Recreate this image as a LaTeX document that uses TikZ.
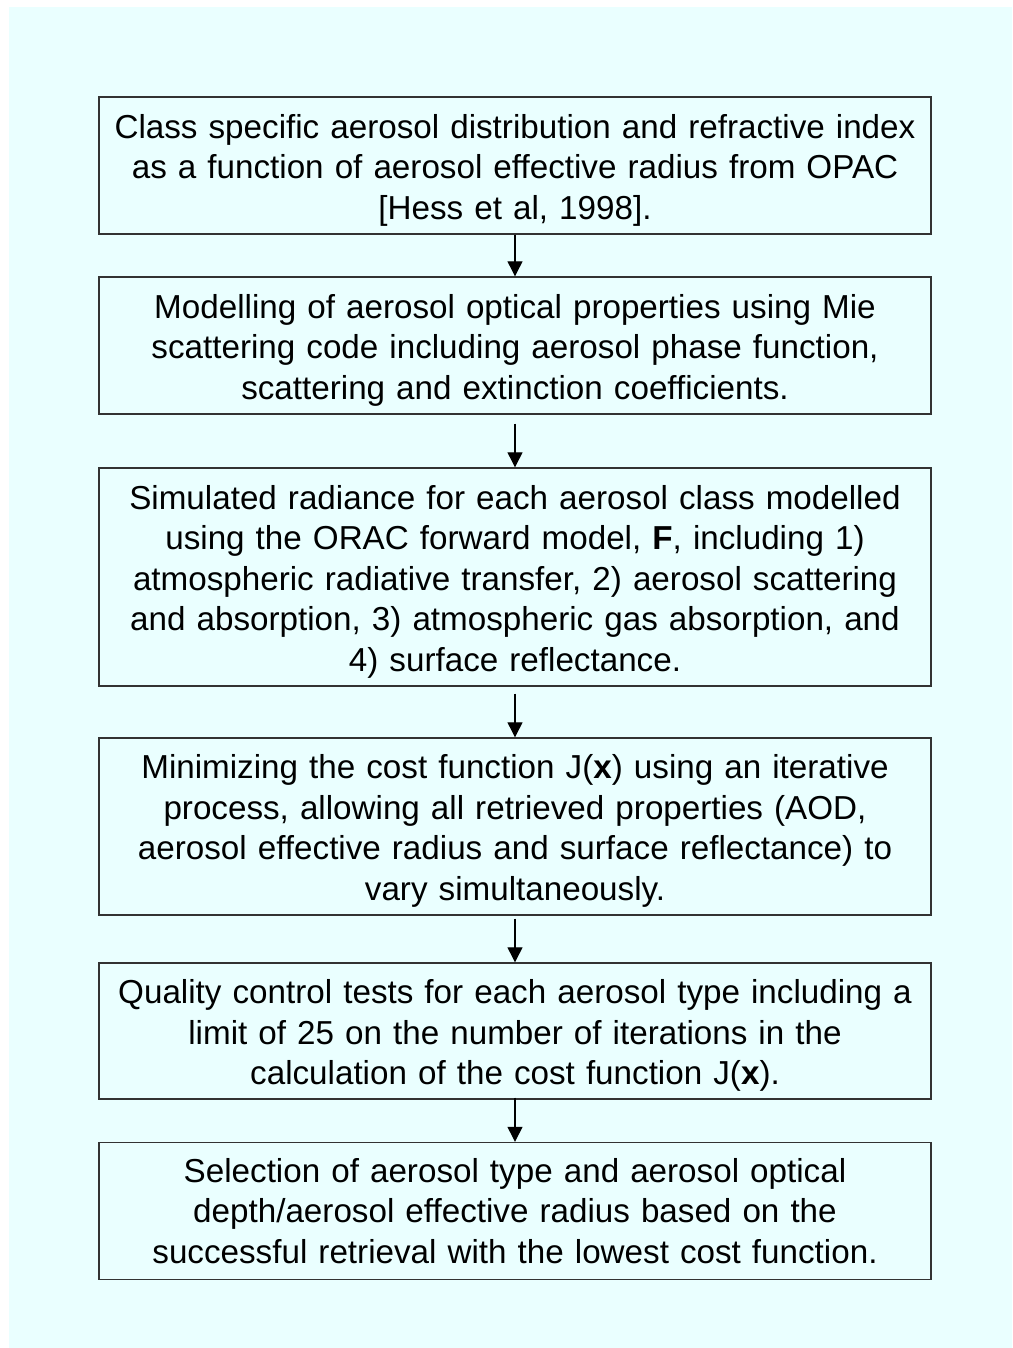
\documentclass[tikz,border=0pt]{standalone}
\usepackage{fontspec}
\setmainfont{Liberation Sans}
\usetikzlibrary{arrows.meta}
\definecolor{paper}{HTML}{EAFFFF}
\definecolor{edge}{HTML}{333333}
\begin{document}
\begin{tikzpicture}[x=1pt,y=-1pt,
  stepbox/.style={draw=edge,line width=1.4pt,fill=paper,minimum width=832pt,
    text width=830pt,align=center,inner sep=0pt,
    font=\fontsize{33.2}{40.5}\selectfont},
  lowered/.style={execute at begin node={\rule{0pt}{33pt}}},
  arr/.style={draw=black,line width=1.2pt,-{Triangle[length=15pt,width=15pt]}}]
\useasboundingbox (0,0) rectangle (1012,1348);
\fill[white] (0,0) rectangle (1012,1348);
\fill[paper] (9,7) rectangle (1012,1348);

\node[stepbox,lowered,minimum height=137pt] (b1) at (515,165.5)
  {Class specific aerosol distribution and refractive index\\
   as a function of aerosol effective radius from OPAC\\\relax
   [Hess et al, 1998].};
\node[stepbox,lowered,minimum height=137pt] (b2) at (515,345.5)
  {Modelling of aerosol optical properties using Mie\\
   scattering code including aerosol phase function,\\
   scattering and extinction coefficients.};
\node[stepbox,lowered,minimum height=218pt] (b3) at (515,577)
  {Simulated radiance for each aerosol class modelled\\
   using the ORAC forward model, \textbf{F}, including 1)\\
   atmospheric radiative transfer, 2) aerosol scattering\\
   and absorption, 3) atmospheric gas absorption, and\\
   4) surface reflectance.};
\node[stepbox,lowered,minimum height=177pt] (b4) at (515,826.5)
  {Minimizing the cost function J(\textbf{x}) using an iterative\\
   process, allowing all retrieved properties (AOD,\\
   aerosol effective radius and surface reflectance) to\\
   vary simultaneously.};
\node[stepbox,lowered,minimum height=136pt] (b5) at (515,1031)
  {Quality control tests for each aerosol type including a\\
   limit of 25 on the number of iterations in the\\
   calculation of the cost function J(\textbf{x}).};
\node[stepbox,minimum height=137pt] (b6) at (515,1211)
  {Selection of aerosol type and aerosol optical\\
   depth/aerosol effective radius based on the\\
   successful retrieval with the lowest cost function.};

\draw[arr] (b1.south) -- (b2.north);
\draw[arr] ([yshift=-9pt]b2.south) -- (b3.north);
\draw[arr] ([yshift=-7pt]b3.south) -- (b4.north);
\draw[arr] ([yshift=-3pt]b4.south) -- (b5.north);
\draw[arr] ([yshift=2pt]b5.south) -- (b6.north);
\end{tikzpicture}
\end{document}
